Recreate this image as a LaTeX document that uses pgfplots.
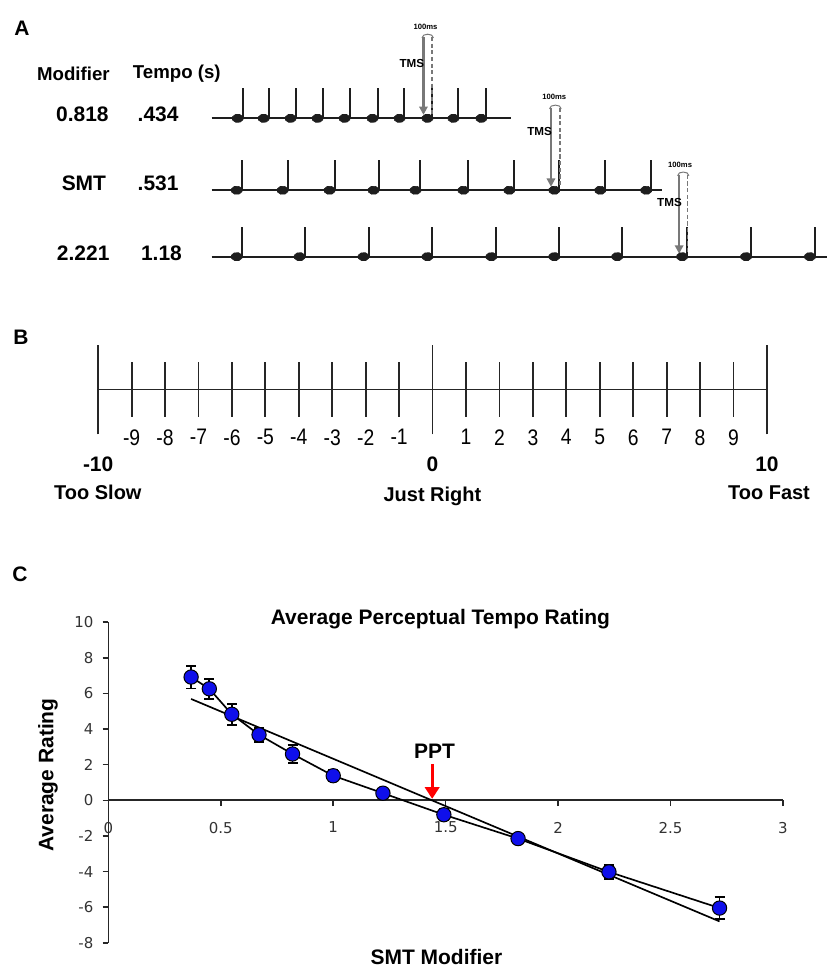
\documentclass[border=0pt]{standalone}
\usepackage{fontspec}
\setmainfont{Liberation Sans}
\newfontfamily\narrowfont[FakeStretch=0.86]{Liberation Sans}
\newfontfamily\tickfont{DejaVu Sans}
\usepackage{pgfplots}
\usepackage{pgfplotstable}
\pgfplotsset{compat=1.18}
\usetikzlibrary{arrows.meta}

\definecolor{ptblue}{RGB}{15,15,235}
\definecolor{notegray}{RGB}{30,30,30}
\definecolor{tmsgray}{RGB}{120,120,120}

% note heads of the three tapping sequences (x, y in pixels of panel A)
\pgfplotstableread{
x y
238 118.5
264 118.5
291 118.5
318 118.5
345 118.5
373 118.5
400 118.5
428 118.5
454 118.5
482 118.5
237 190.5
283 190.5
330 190.5
374 190.5
416 190.5
464 190.5
510 190.5
555 190.5
601 190.5
647 190.5
237 257
300 257
364 257
428 257
492 257
555 257
618 257
683 257
747 257
811 257
}\notes

% average tempo rating vs SMT modifier
\pgfplotstableread{
x y e
0.368 6.92 0.64
0.449 6.26 0.56
0.549 4.83 0.60
0.670 3.68 0.40
0.819 2.60 0.50
1.000 1.38 0.30
1.221 0.40 0.25
1.492 -0.81 0.30
1.822 -2.15 0.22
2.226 -4.02 0.40
2.718 -6.05 0.60
}\ratings

\begin{document}
\begin{tikzpicture}
% page: 828 x 970 px, 1 px = 0.6 pt
\path (0,0) rectangle (496.8pt,-582pt);

%%% A
\begin{axis}[
  at={(0pt,-168pt)}, anchor=south west,
  scale only axis, width=496.8pt, height=168pt,
  xmin=0, xmax=828, ymin=0, ymax=280, y dir=reverse,
  hide axis, clip=false,
]
\addplot[notegray, line width=1.2pt] coordinates {(212,118.5) (512,118.5)};
\addplot[notegray, line width=1.2pt] coordinates {(212,190.5) (663,190.5)};
\addplot[notegray, line width=1.2pt] coordinates {(212,257) (828,257)};
\addplot[notegray, line width=1.2pt, quiver={u=0, v=-30}]
  table[x expr=\thisrow{x}+5, y=y] {\notes};
\addplot[only marks, mark=*, mark size=2.5pt, notegray,
  mark options={xscale=1.35, rotate=25}] table {\notes};

\foreach \xa/\xd/\ya/\yb in {424/432.5/37/115, 551.7/560.5/108/187, 680/688.3/175/254}{
  \edef\tmp{\noexpand\draw[tmsgray, line width=0.9pt, dash pattern=on 2.5pt off 1.5pt] (\xd,\ya) -- (\xd,\yb);
    \noexpand\draw[tmsgray, line width=1.6pt, -{Triangle[length=5pt,width=5pt]}] (\xa,\ya) -- (\xa,\yb);
    \noexpand\draw[tmsgray, line width=0.6pt] (\xa-1.5,\ya+1) .. controls (\xa-1.5,\ya-4) and (\xd+1.5,\ya-4) .. (\xd+1.5,\ya+1);}
  \tmp
}
\node[font=\bfseries\fontsize{4.6}{5}\selectfont] at (426,26.5) {100ms};
\node[font=\bfseries\fontsize{4.6}{5}\selectfont] at (555,96.5) {100ms};
\node[font=\bfseries\fontsize{4.6}{5}\selectfont] at (681,165) {100ms};
\node[font=\bfseries\fontsize{7}{8}\selectfont, anchor=east, inner sep=0pt] at (425,63.5) {TMS};
\node[font=\bfseries\fontsize{7}{8}\selectfont, anchor=east, inner sep=0pt] at (553,132) {TMS};
\node[font=\bfseries\fontsize{7}{8}\selectfont, anchor=east, inner sep=0pt] at (683,203) {TMS};

\node[font=\bfseries\fontsize{11.2}{13}\selectfont] at (73.5,73.5) {Modifier};
\node[font=\bfseries\fontsize{11.2}{13}\selectfont] at (177,73.5) {Tempo (s)};
\node[font=\bfseries\fontsize{12.6}{14}\selectfont] at (82.5,114) {0.818};
\node[font=\bfseries\fontsize{12.6}{14}\selectfont] at (158.3,114) {.434};
\node[font=\bfseries\fontsize{12.6}{14}\selectfont] at (84,184) {SMT};
\node[font=\bfseries\fontsize{12.6}{14}\selectfont] at (158.3,184) {.531};
\node[font=\bfseries\fontsize{12.6}{14}\selectfont] at (83.3,254) {2.221};
\node[font=\bfseries\fontsize{12.6}{14}\selectfont] at (161.7,254) {1.18};
\end{axis}

%%% B
\begin{axis}[
  at={(98.3*0.6pt,-420*0.6pt)}, anchor=south west,
  scale only axis, width=401.8pt, height=36pt,
  xmin=-10, xmax=10, ymin=-1, ymax=1,
  axis x line=middle, axis y line=none,
  axis line style={-, line width=1.1pt, black!85},
  xtick={-9,-8,-7,-6,-5,-4,-3,-2,-1,1,2,3,4,5,6,7,8,9},
  xticklabels={-9,-8,-7,-6,-5,-4,-3,-2,-1,1,2,3,4,5,6,7,8,9},
  tick align=center, major tick length=33pt,
  every tick/.style={line width=1.1pt, black!85},
  xticklabel style={font=\narrowfont\fontsize{13.5}{15}\selectfont, yshift=-4pt},
  extra x ticks={-10,0,10},
  extra x tick labels={-10,0,10},
  extra x tick style={major tick length=54pt,
    xticklabel style={font=\bfseries\fontsize{12.6}{14}\selectfont, yshift=-6pt}},
  clip=false,
]
\end{axis}

%%% C
\begin{axis}[
  at={(108.5*0.6pt,-944*0.6pt)}, anchor=south west,
  scale only axis, width=405.3pt, height=192.6pt,
  xmin=0, xmax=3, ymin=-8, ymax=10,
  axis x line=middle, axis y line=left,
  hide obscured x ticks=false, hide obscured y ticks=false,
  axis line style={-, line width=1pt, black!85},
  xtick={0,0.5,1,1.5,2,2.5,3},
  xticklabels={0,0.5,1,1.5,2,2.5,3},
  ytick={-8,-6,-4,-2,0,2,4,6,8,10},
  yticklabels={-8,-6,-4,-2,0,2,4,6,8,10},
  tick align=outside, major tick length=3.5pt,
  every tick/.style={line width=0.9pt, black!85},
  xticklabel style={font=\tickfont\fontsize{9}{10}\selectfont, text=black!80, yshift=-6pt},
  yticklabel style={font=\tickfont\fontsize{9}{10}\selectfont, text=black!80, xshift=-2pt},
  clip=false,
]
\addplot[black, line width=1pt] coordinates {(0.368,5.69) (2.718,-6.8)};
\addplot[black, line width=1pt, mark=*, mark size=4.3pt,
  mark options={fill=ptblue, draw=black, line width=0.6pt},
  error bars/.cd, y dir=both, y explicit, error mark=-,
  error mark options={rotate=90, mark size=3pt, line width=1.1pt, black},
  error bar style={line width=1.1pt, black}]
  table[x=x, y=y, y error=e] {\ratings};
\draw[red, line width=1.8pt, -{Triangle[length=7pt,width=8.5pt]}] (1.44,2.05) -- (1.44,0.08);
\node[font=\bfseries\fontsize{12.6}{14}\selectfont] at (1.45,2.73) {PPT};
\end{axis}

%%% panel letters and outer labels
\begin{scope}[x=0.6pt, y=-0.6pt]
\node[font=\bfseries\fontsize{12.6}{14}\selectfont] at (22,28) {A};
\node[font=\bfseries\fontsize{12.6}{14}\selectfont] at (21,338) {B};
\node[font=\bfseries\fontsize{12.6}{14}\selectfont] at (20,575) {C};
\node[font=\bfseries\fontsize{12}{14}\selectfont] at (98,493) {Too Slow};
\node[font=\bfseries\fontsize{12}{14}\selectfont] at (433,497) {Just Right};
\node[font=\bfseries\fontsize{12}{14}\selectfont] at (770,493) {Too Fast};
\node[font=\bfseries\fontsize{12.6}{14}\selectfont] at (441,620) {Average Perceptual Tempo Rating};
\node[font=\bfseries\fontsize{12.6}{14}\selectfont, rotate=90] at (48,776) {Average Rating};
\node[font=\bfseries\fontsize{12.6}{14}\selectfont] at (437,958) {SMT Modifier};
\end{scope}
\end{tikzpicture}
\end{document}
